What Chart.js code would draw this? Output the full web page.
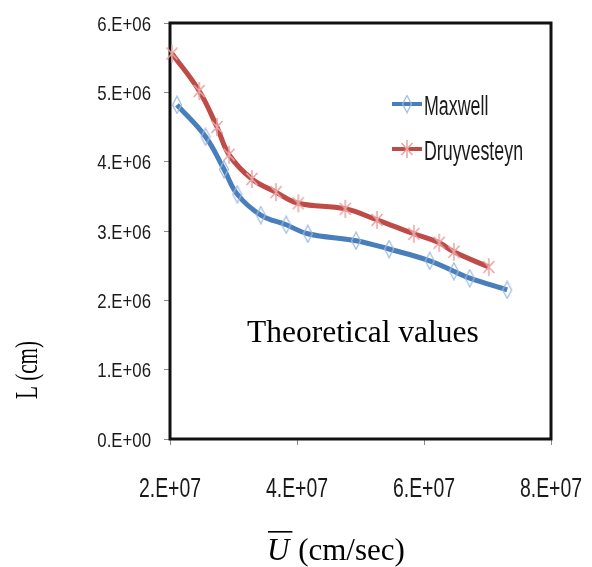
<!DOCTYPE html>
<html>
<head>
<meta charset="utf-8">
<script src="https://cdn.jsdelivr.net/npm/chart.js@4/dist/chart.umd.min.js"></script>
<style>
  html, body { margin: 0; padding: 0; background: #fff; }
  #wrap { width: 592px; height: 567px; position: relative; }
</style>
</head>
<body>
<div id="wrap"><canvas id="c" width="592" height="567"></canvas></div>
<script>
// Mean velocity U (cm/sec) and length L (cm), theoretical values
const maxwellU = [2.11e7, 2.56e7, 2.85e7, 3.06e7, 3.43e7, 3.83e7, 4.17e7, 4.93e7, 5.45e7, 6.09e7, 6.47e7, 6.72e7, 7.31e7];
const maxwellL = [4.82e6, 4.36e6, 3.89e6, 3.53e6, 3.23e6, 3.09e6, 2.96e6, 2.86e6, 2.74e6, 2.57e6, 2.42e6, 2.32e6, 2.15e6];

const druyU = [2.03e7, 2.46e7, 2.74e7, 2.93e7, 3.29e7, 3.67e7, 4.02e7, 4.76e7, 5.26e7, 5.84e7, 6.24e7, 6.47e7, 7.02e7];
const druyL = [5.56e6, 5.02e6, 4.50e6, 4.10e6, 3.75e6, 3.56e6, 3.40e6, 3.32e6, 3.16e6, 2.96e6, 2.83e6, 2.70e6, 2.48e6];

const seriesNames = ['Maxwell', 'Druyvesteyn'];
const xTickLabels = ['2.E+07', '4.E+07', '6.E+07', '8.E+07'];
const yTickLabels = ['0.E+00', '1.E+06', '2.E+06', '3.E+06', '4.E+06', '5.E+06', '6.E+06'];

const SANS = '"Liberation Sans", Arial, sans-serif';
const SERIF = '"Liberation Serif", "Times New Roman", serif';

const BLUE = '#4a7ebb';
const RED = '#be4b48';

// Hollow tall diamond marker
function diamondMarker() {
  const c = document.createElement('canvas');
  c.width = 12; c.height = 19;
  const g = c.getContext('2d');
  g.strokeStyle = '#9bb9e0';
  g.lineWidth = 1.2;
  g.beginPath();
  g.moveTo(6, 1); g.lineTo(10.5, 9.5); g.lineTo(6, 18); g.lineTo(1.5, 9.5); g.closePath();
  g.stroke();
  return c;
}
// Asterisk marker: vertical bar plus a cross
function starMarker() {
  const c = document.createElement('canvas');
  c.width = 14; c.height = 20;
  const g = c.getContext('2d');
  g.strokeStyle = '#e8a3a2';
  g.lineWidth = 1.5;
  g.beginPath();
  g.moveTo(7, 1); g.lineTo(7, 19);
  g.moveTo(1.5, 4); g.lineTo(12.5, 16);
  g.moveTo(12.5, 4); g.lineTo(1.5, 16);
  g.stroke();
  return c;
}
const diamondImg = diamondMarker();
const starImg = starMarker();

const toPoints = (xs, ys) => xs.map((x, i) => ({ x: x, y: ys[i] }));

// Condensed text helper (narrow sans look)
function narrowText(ctx, text, x, y, size, sx, sy, align, baseline) {
  ctx.save();
  ctx.translate(x, y);
  ctx.scale(sx, sy);
  ctx.font = size + 'px ' + SANS;
  ctx.textAlign = align;
  ctx.textBaseline = baseline;
  ctx.fillText(text, 0, 0);
  ctx.restore();
}

// Frame around the plotting area
const framePlugin = {
  id: 'frame',
  beforeDatasetsDraw(chart) {
    const a = chart.chartArea, ctx = chart.ctx;
    ctx.save();
    ctx.strokeStyle = '#111';
    ctx.lineWidth = 3;
    ctx.strokeRect(a.left, a.top, a.right - a.left, a.bottom - a.top);
    ctx.restore();
  }
};

// Tick labels placed at the scales' tick positions
const tickLabelPlugin = {
  id: 'tickLabels',
  afterDraw(chart) {
    const ctx = chart.ctx;
    const xs = chart.scales.x, ys = chart.scales.y;
    ctx.save();
    ctx.fillStyle = '#1a1a1a';
    xs.ticks.forEach((t, i) => {
      narrowText(ctx, xTickLabels[i], xs.getPixelForTick(i), 497, 27, 0.72, 1, 'center', 'alphabetic');
    });
    ys.ticks.forEach((t, i) => {
      narrowText(ctx, yTickLabels[i], 151, ys.getPixelForTick(i) + 7.8, 21, 0.8, 1, 'right', 'alphabetic');
    });
    ctx.restore();
  }
};

// Axis titles, annotation and the legend box
const textPlugin = {
  id: 'texts',
  afterDraw(chart) {
    const ctx = chart.ctx;
    ctx.save();
    ctx.fillStyle = '#000';

    // y title
    ctx.save();
    ctx.translate(29, 370);
    ctx.rotate(-Math.PI / 2);
    ctx.scale(0.66, 1);
    ctx.font = '32px ' + SERIF;
    ctx.textAlign = 'center';
    ctx.textBaseline = 'middle';
    ctx.fillText('L (cm)', 0, 0);
    ctx.restore();

    // x title: U with an overline
    ctx.textAlign = 'left';
    ctx.textBaseline = 'alphabetic';
    ctx.font = 'italic 31px ' + SERIF;
    const ux = 267, uy = 560;
    ctx.fillText('U', ux, uy);
    const uw = ctx.measureText('U').width;
    ctx.fillRect(ux + 1, 531, uw + 2, 1.6);
    ctx.font = '31px ' + SERIF;
    ctx.fillText(' (cm/sec)', ux + uw + 1, uy);

    // annotation
    ctx.font = '31.5px ' + SERIF;
    ctx.fillText('Theoretical values', 247, 342);

    // legend
    const items = [
      { name: seriesNames[0], color: BLUE, img: diamondImg, y: 104 },
      { name: seriesNames[1], color: RED, img: starImg, y: 149 }
    ];
    items.forEach(it => {
      ctx.strokeStyle = it.color;
      ctx.lineWidth = 4;
      ctx.beginPath();
      ctx.moveTo(392, it.y);
      ctx.lineTo(422, it.y);
      ctx.stroke();
      ctx.drawImage(it.img, 407 - it.img.width / 2, it.y - it.img.height / 2);
      ctx.fillStyle = '#1a1a1a';
      narrowText(ctx, it.name, 424, it.y + 11, 27, 0.66, 1, 'left', 'alphabetic');
    });
    ctx.restore();
  }
};

new Chart(document.getElementById('c'), {
  type: 'line',
  data: {
    datasets: [
      {
        label: seriesNames[0],
        data: toPoints(maxwellU, maxwellL),
        borderColor: BLUE,
        borderWidth: 5,
        tension: 0.4,
        pointStyle: diamondImg,
        pointRadius: 6,
        clip: false
      },
      {
        label: seriesNames[1],
        data: toPoints(druyU, druyL),
        borderColor: RED,
        borderWidth: 5,
        tension: 0.4,
        pointStyle: starImg,
        pointRadius: 6,
        clip: false
      }
    ]
  },
  options: {
    responsive: false,
    animation: false,
    events: [],
    layout: { padding: { top: 23, right: 41, left: 0, bottom: 0 } },
    plugins: { legend: { display: false }, tooltip: { enabled: false } },
    scales: {
      x: {
        type: 'linear',
        min: 2e7, max: 8e7,
        afterFit(s) { s.height = 128; s.paddingLeft = 0; s.paddingRight = 0; },
        border: { display: false },
        grid: { drawOnChartArea: false, drawTicks: true, tickLength: 6, color: '#8a8a8a' },
        ticks: {
          display: false,
          stepSize: 2e7,
          callback: (v, i) => xTickLabels[i]
        }
      },
      y: {
        min: 0, max: 6e6,
        afterFit(s) { s.width = 170; s.paddingTop = 0; s.paddingBottom = 0; },
        border: { display: false },
        grid: { drawOnChartArea: false, drawTicks: true, tickLength: 6, color: '#8a8a8a' },
        ticks: {
          display: false,
          stepSize: 1e6,
          callback: (v, i) => yTickLabels[i]
        }
      }
    }
  },
  plugins: [framePlugin, tickLabelPlugin, textPlugin]
});
</script>
</body>
</html>
